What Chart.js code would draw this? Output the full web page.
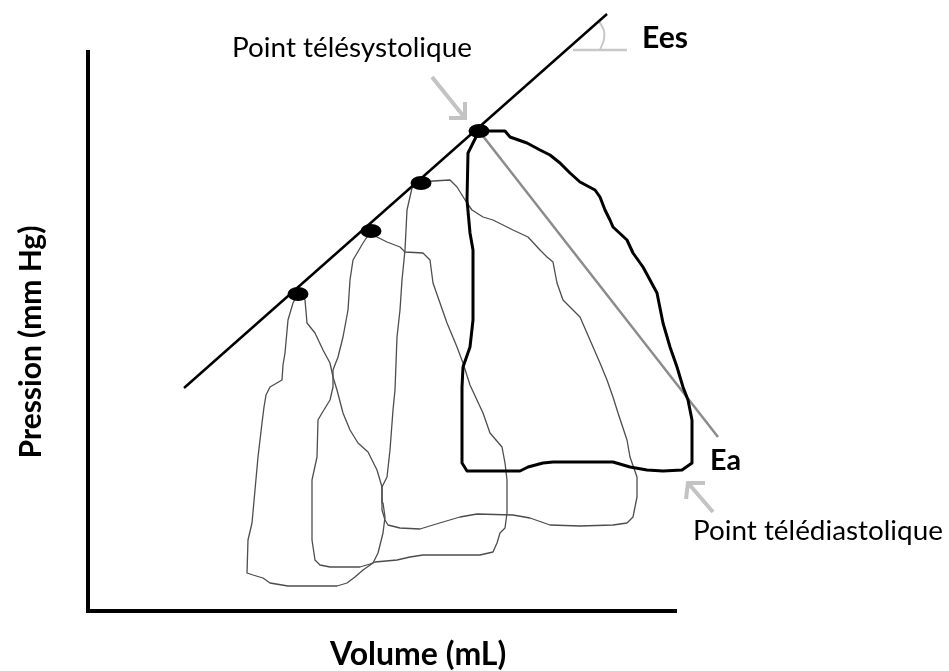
<!DOCTYPE html>
<html>
<head>
<meta charset="utf-8">
<script src="https://cdn.jsdelivr.net/npm/chart.js@4.4.0/dist/chart.umd.min.js"></script>
<style>
html,body{margin:0;padding:0;background:#ffffff;}
#wrap{width:949px;height:671px;position:relative;}
</style>
</head>
<body>
<div id="wrap"><canvas id="c" width="949" height="671"></canvas></div>
<script>
// ---- Data (volume, pressure), arbitrary units ----
const loop1 = [[210,317],[205,308],[200,291],[197,258],[195,246],[194,231],[182,224],[178,216],[176,204],[174,188],[170,154],[167,121],[164,88],[160,71],[159,38],[165,36],[175,33],[182,28],[200,25],[249,25],[259,28],[267,34],[275,41],[285,48],[290,58],[295,78],[297,94],[295,108],[294,124],[289,141],[280,159],[270,168],[262,181],[255,198],[249,221],[245,234],[242,248],[235,261],[227,278],[219,288],[217,311],[210,317]];
const loop2 = [[283,380],[275,368],[265,351],[262,331],[260,301],[255,274],[250,254],[245,241],[245,224],[242,211],[234,198],[230,191],[229,154],[224,131],[224,71],[227,51],[232,46],[242,44],[272,44],[282,47],[287,49],[309,51],[322,54],[335,56],[392,56],[405,59],[409,68],[412,78],[417,83],[419,98],[419,131],[417,148],[414,164],[402,178],[395,198],[382,226],[375,248],[369,264],[359,288],[352,308],[345,328],[342,351],[335,358],[317,359],[312,364],[299,369],[289,374],[283,380]];
const loop3 = [[333,428],[324,423],[319,401],[317,361],[314,331],[312,301],[309,274],[307,221],[305,201],[302,161],[299,134],[294,124],[294,101],[297,91],[300,86],[312,83],[332,82],[345,86],[355,89],[372,94],[389,97],[425,96],[442,93],[462,86],[492,85],[525,86],[539,88],[545,94],[549,114],[549,134],[542,154],[539,171],[530,198],[525,214],[519,231],[512,248],[502,271],[492,294],[475,311],[469,328],[465,349],[459,354],[452,361],[440,374],[425,381],[405,391],[395,394],[384,401],[379,408],[369,424],[362,431],[345,430],[333,428]];
const loop4 = [[391,480],[385,468],[380,458],[379,411],[382,378],[385,361],[385,291],[382,264],[375,244],[374,224],[374,148],[379,140],[432,140],[440,144],[455,148],[465,149],[525,149],[542,144],[559,141],[575,140],[594,141],[604,148],[604,191],[600,211],[595,224],[589,244],[582,264],[575,288],[569,318],[562,331],[555,344],[545,358],[539,371],[525,384],[522,391],[517,401],[512,414],[507,421],[492,429],[482,438],[472,448],[462,456],[452,461],[439,468],[422,474],[417,480],[405,480],[391,480]];
const endSystolic = [[210,317],[283,380],[333,428],[391,480]];
const eesLine = [[96,223],[519,597]];
const eaLine = [[391,480],[630,174]];
const eesAngle = [[511,590],[516,580],[516,572],[514,566],[512,561]];
const eesBase = [[485,561],[539,561]];
const arrowSys = [[344,534],[377,493],[null,null],[377,509],[377,493],[361,493]];
const arrowDia = [[625,99],[600,128],[null,null],[617,128],[600,128],[598,112]];
const axisTitles = {x:'Volume (mL)', y:'Pression (mm Hg)'};

// text placement (value-space anchors), kept apart from the data
const labels = [
  {text:'Point télésystolique', x:144, y:554, w:240, bold:false},
  {text:'Ees', x:554, y:563, w:46, bold:true},
  {text:'Ea', x:622, y:141, w:31, bold:true},
  {text:'Point télédiastolique', x:605, y:71, w:250, bold:false},
  {text:axisTitles.x, x:242, y:-54, size:32, bold:true},
  {text:axisTitles.y, x:-47, y:269, size:30, bold:true, rotate:true}
];

const pts = a => a.map(p => ({x:p[0], y:p[1]}));

// ellipse-shaped marker
const dot = document.createElement('canvas');
dot.width = 24; dot.height = 16;
{ const g = dot.getContext('2d'); g.fillStyle = '#000'; g.beginPath(); g.ellipse(12,8,10.5,7,0,0,Math.PI*2); g.fill(); }

const lineDs = (data, color, width, extra) => Object.assign({
  data: pts(data), showLine:true, borderColor:color, backgroundColor:color,
  borderWidth:width, pointRadius:0, pointHoverRadius:0, fill:false, tension:0,
  clip:false, spanGaps:false, borderJoinStyle:'round'
}, extra||{});

const FONT = 'Lato, "Open Sans", sans-serif';

const textPlugin = {
  id:'textLabels',
  afterDatasetsDraw(chart){
    const {ctx, scales:{x, y}} = chart;
    ctx.save();
    ctx.fillStyle = '#000';
    ctx.textBaseline = 'alphabetic';
    labels.forEach(l => {
      const wt = l.bold ? 'bold ' : '';
      let size = l.size;
      if (!size) {
        ctx.font = wt + '20px ' + FONT;
        size = 20 * l.w / ctx.measureText(l.text).width;
      }
      ctx.font = wt + size.toFixed(2) + 'px ' + FONT;
      const px = x.getPixelForValue(l.x), py = y.getPixelForValue(l.y);
      if (l.rotate) {
        ctx.save();
        ctx.translate(px, py);
        ctx.rotate(-Math.PI/2);
        ctx.textAlign = 'center';
        ctx.fillText(l.text, 0, 0);
        ctx.restore();
      } else {
        ctx.textAlign = 'left';
        ctx.fillText(l.text, px, py);
      }
    });
    ctx.restore();
  }
};

// Chart.js paints the first dataset on top, so markers come first.
new Chart(document.getElementById('c'), {
  type:'scatter',
  data:{datasets:[
    {data: pts(endSystolic), showLine:false, pointStyle: dot, pointRadius:8, pointHoverRadius:8, clip:false},
    lineDs(arrowSys, '#c3c3c3', 4, {borderJoinStyle:'miter'}),
    lineDs(arrowDia, '#c3c3c3', 4, {borderJoinStyle:'miter'}),
    lineDs(eesLine, '#000000', 2.5),
    lineDs(eesBase, '#c8c8c8', 2.5),
    lineDs(eesAngle, '#c8c8c8', 2, {tension:0.4}),
    lineDs(loop4, '#000000', 3),
    lineDs(eaLine, '#8c8c8c', 2.5),
    lineDs(loop3, '#4d4d4d', 1.3),
    lineDs(loop2, '#4d4d4d', 1.3),
    lineDs(loop1, '#4d4d4d', 1.3)
  ]},
  options:{
    responsive:false, animation:false, events:[],
    layout:{padding:{left:0, top:52, right:273, bottom:0}},
    plugins:{legend:{display:false}, tooltip:{enabled:false}},
    scales:{
      x:{type:'linear', min:0, max:588,
        grid:{display:false}, ticks:{display:false},
        border:{display:true, color:'#000', width:4},
        title:{display:false, text:axisTitles.x},
        afterFit(s){ s.height = 60; }
      },
      y:{type:'linear', min:0, max:559,
        grid:{display:false}, ticks:{display:false},
        border:{display:true, color:'#000', width:4},
        title:{display:false, text:axisTitles.y},
        afterFit(s){ s.width = 88; }
      }
    }
  },
  plugins:[textPlugin]
});
</script>
</body>
</html>
